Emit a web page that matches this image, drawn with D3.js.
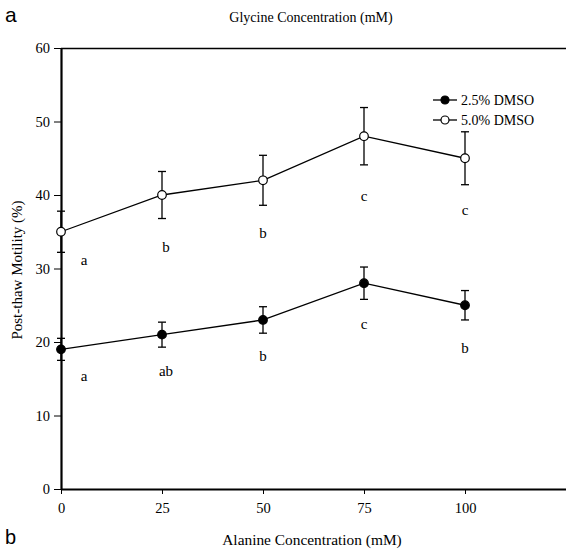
<!DOCTYPE html>
<html><head><meta charset="utf-8">
<script src="https://cdn.jsdelivr.net/npm/d3@7"></script>
<style>
body{margin:0;background:#fff;}
svg{display:block;font-family:"Liberation Serif","Times New Roman",serif;}
</style></head>
<body><svg id="c" width="566" height="549"></svg>
<script>
const concentrations = [0, 25, 50, 75, 100];
const dmso25 = [19, 21, 23, 28, 25];
const dmso25Err = [1.5, 1.7, 1.8, 2.2, 2.0];
const dmso50 = [35, 40, 42, 48, 45];
const dmso50Err = [2.8, 3.2, 3.4, 3.9, 3.6];
const letters25 = ["a", "ab", "b", "c", "b"];
const letters50 = ["a", "b", "b", "c", "c"];
const letterX = [5.7, 26, 50, 75, 100];
const letterY25 = [14.7, 15.4, 17.4, 21.8, 18.5];
const letterY50 = [30.5, 32.2, 34.1, 39.2, 37.3];
const yTicks = [0, 10, 20, 30, 40, 50, 60];
const xTicks = [0, 25, 50, 75, 100];
const seriesNames = ["2.5% DMSO", "5.0% DMSO"];

const svg = d3.select("#c");
const x = d3.scaleLinear().domain([0, 125]).range([61, 566]);
const y = d3.scaleLinear().domain([0, 60]).range([489, 48]);

svg.append("line").attr("x1", x(0)).attr("x2", x(125)).attr("y1", y(60)+0.5).attr("y2", y(60)+0.5)
  .attr("stroke", "#000").attr("stroke-width", 1.3);

const ya = svg.append("g").attr("transform", `translate(${x(0)},0)`)
  .call(d3.axisLeft(y).tickValues(yTicks).tickSize(7).tickPadding(4).tickSizeOuter(0));
ya.select(".domain").attr("stroke-width", 2.2);
ya.selectAll("text").attr("font-size", 14.5).attr("font-family", "Liberation Serif").attr("fill", "#000");

const xa = svg.append("g").attr("transform", `translate(0,${y(0)})`)
  .call(d3.axisBottom(x).tickValues(xTicks).tickSize(5).tickPadding(9).tickSizeOuter(0));
xa.select(".domain").attr("stroke-width", 2.2);
xa.selectAll("text").attr("font-size", 14.5).attr("font-family", "Liberation Serif").attr("fill", "#000");

const line = d3.line().x((d, i) => x(concentrations[i])).y(d => y(d));

function drawSeries(vals, errs, fill) {
  const g = svg.append("g");
  g.append("path").datum(vals).attr("d", line).attr("fill", "none").attr("stroke", "#000").attr("stroke-width", 1.3);
  vals.forEach((v, i) => {
    const cx = x(concentrations[i]);
    const t = y(v + errs[i]), b = y(v - errs[i]);
    g.append("line").attr("x1", cx).attr("x2", cx).attr("y1", t).attr("y2", b).attr("stroke", "#000").attr("stroke-width", 1.3);
    [t, b].forEach(yy => g.append("line").attr("x1", cx - 4).attr("x2", cx + 4).attr("y1", yy).attr("y2", yy).attr("stroke", "#000").attr("stroke-width", 1.3));
  });
  g.selectAll("circle").data(vals).join("circle")
    .attr("cx", (d, i) => x(concentrations[i])).attr("cy", d => y(d)).attr("r", 4.3)
    .attr("fill", fill).attr("stroke", "#000").attr("stroke-width", 1.2);
}
drawSeries(dmso25, dmso25Err, "#000");
drawSeries(dmso50, dmso50Err, "#fff");

function drawLetters(lbls, ys) {
  svg.append("g").selectAll("text").data(lbls).join("text")
    .attr("x", (d, i) => x(letterX[i])).attr("y", (d, i) => y(ys[i]))
    .attr("text-anchor", "middle").attr("font-size", 15).attr("fill", "#000").text(d => d);
}
drawLetters(letters25, letterY25);
drawLetters(letters50, letterY50);

const leg = svg.append("g");
[["#000", 100], ["#fff", 120]].forEach(([f, ly], i) => {
  leg.append("line").attr("x1", 433).attr("x2", 457).attr("y1", ly).attr("y2", ly).attr("stroke", "#000").attr("stroke-width", 1.3);
  leg.append("circle").attr("cx", 445).attr("cy", ly).attr("r", 4).attr("fill", f).attr("stroke", "#000").attr("stroke-width", 1.2);
  leg.append("text").attr("x", 461).attr("y", ly + 5).attr("font-size", 14).text(seriesNames[i]);
});

svg.append("text").attr("x", 311).attr("y", 22).attr("text-anchor", "middle").attr("font-size", 14).text("Glycine Concentration (mM)");
svg.append("text").attr("x", 312).attr("y", 545).attr("text-anchor", "middle").attr("font-size", 15.4).text("Alanine Concentration (mM)");
svg.append("text").attr("transform", "translate(22,270) rotate(-90)").attr("text-anchor", "middle").attr("font-size", 15).text("Post-thaw Motility (%)");
svg.append("text").attr("x", 5).attr("y", 22).attr("font-family", "Liberation Sans, Arial, sans-serif").attr("font-size", 21).text("a");
svg.append("text").attr("x", 5).attr("y", 544).attr("font-family", "Liberation Sans, Arial, sans-serif").attr("font-size", 20).text("b");
</script></body></html>
